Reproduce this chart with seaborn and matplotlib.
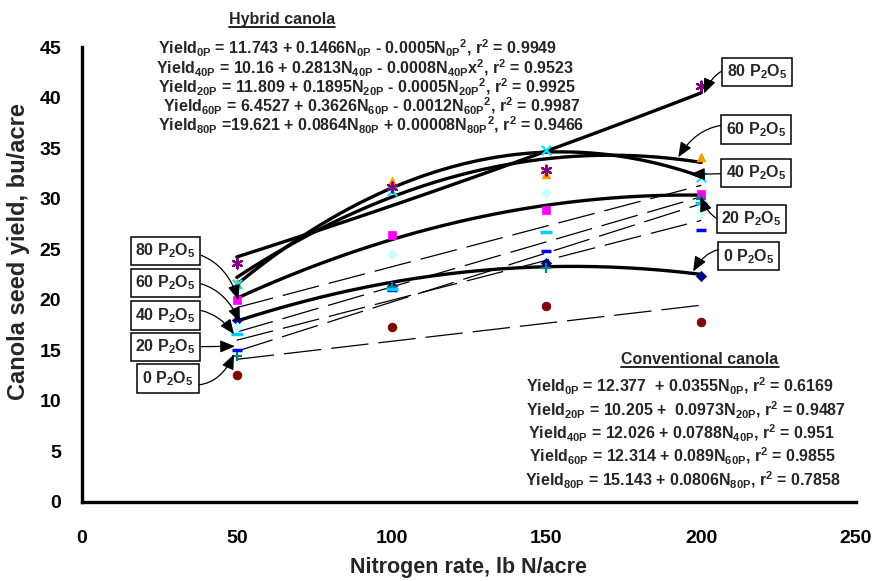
import numpy as np
import matplotlib
matplotlib.use("Agg")
import matplotlib.pyplot as plt
from matplotlib.lines import Line2D
import seaborn as sns

# Nitrogen rates (lb N/acre)
n_rate = [50, 100, 150, 200]

# Hybrid canola seed yield (bu/acre) by P2O5 rate
hybrid_0p = [18.0, 21.4, 23.6, 22.4]
hybrid_20p = [20.0, 26.4, 28.9, 30.5]
hybrid_40p = [21.7, 31.7, 32.4, 34.1]
hybrid_60p = [21.6, 30.8, 34.85, 32.1]
hybrid_80p = [23.6, 31.2, 32.8, 41.1]

# Conventional canola seed yield (bu/acre) by P2O5 rate
conv_0p = [12.6, 17.3, 19.4, 17.85]
conv_20p = [14.4, 21.3, 23.1, 30.0]
conv_40p = [15.0, 21.0, 24.8, 26.9]
conv_60p = [16.6, 21.1, 26.7, 29.6]
conv_80p = [17.3, 24.5, 30.6, 28.7]

hybrid_title = "Hybrid canola"
hybrid_eqs = [
    r"Yield$_{0P}$ = 11.743 + 0.1466N$_{0P}$ - 0.0005N$_{0P}$$^{2}$, r$^{2}$ = 0.9949",
    r"Yield$_{40P}$ = 10.16 + 0.2813N$_{40P}$ - 0.0008N$_{40P}$x$^{2}$, r$^{2}$ = 0.9523",
    r"Yield$_{20P}$ = 11.809 + 0.1895N$_{20P}$ - 0.0005N$_{20P}$$^{2}$, r$^{2}$ = 0.9925",
    r"Yield$_{60P}$ = 6.4527 + 0.3626N$_{60P}$ - 0.0012N$_{60P}$$^{2}$, r$^{2}$ = 0.9987",
    r"Yield$_{80P}$ =19.621 + 0.0864N$_{80P}$ + 0.00008N$_{80P}$$^{2}$, r$^{2}$ = 0.9466",
]
conv_title = "Conventional canola"
conv_eqs = [
    r"Yield$_{0P}$ = 12.377  + 0.0355N$_{0P}$, r$^{2}$ = 0.6169",
    r"Yield$_{20P}$ = 10.205 +  0.0973N$_{20P}$, r$^{2}$ = 0.9487",
    r"Yield$_{40P}$ = 12.026 + 0.0788N$_{40P}$, r$^{2}$ = 0.951",
    r"Yield$_{60P}$ = 12.314 + 0.089N$_{60P}$, r$^{2}$ = 0.9855",
    r"Yield$_{80P}$ = 15.143 + 0.0806N$_{80P}$, r$^{2}$ = 0.7858",
]
p_labels = ["0 P$_{2}$O$_{5}$", "20 P$_{2}$O$_{5}$", "40 P$_{2}$O$_{5}$",
            "60 P$_{2}$O$_{5}$", "80 P$_{2}$O$_{5}$"]

sns.set_theme(style="white")
plt.rcParams["font.family"] = ["Liberation Sans", "DejaVu Sans"]
plt.rcParams["font.weight"] = "bold"
plt.rcParams["axes.labelweight"] = "bold"
plt.rcParams["mathtext.fontset"] = "custom"
for key in ("rm", "it", "bf", "sf"):
    plt.rcParams[f"mathtext.{key}"] = "Liberation Sans:bold"

W, H = 876, 581
fig = plt.figure(figsize=(W / 100, H / 100), dpi=100)
ax = fig.add_axes([82 / W, 1 - 502 / H, (856 - 82) / W, (502 - 47) / H])


def fpx(px, py):
    """Pixel position (from top-left) to figure fraction."""
    return px / W, 1 - py / H


xs = np.linspace(50, 200, 200)

# Quadratic trend lines for hybrid canola
for ys in (hybrid_0p, hybrid_20p, hybrid_40p, hybrid_60p, hybrid_80p):
    coef = np.polyfit(n_rate, ys, 2)
    sns.lineplot(x=xs, y=np.polyval(coef, xs), color="black", lw=2.4,
                 ax=ax, zorder=3, legend=False)

# Linear trend lines for conventional canola
for ys in (conv_0p, conv_20p, conv_40p, conv_60p, conv_80p):
    coef = np.polyfit(n_rate, ys, 1)
    sns.lineplot(x=xs, y=np.polyval(coef, xs), color="black", lw=0.9,
                 linestyle=(0, (30, 8)), ax=ax, zorder=2, legend=False)

# Observed means
marker_specs = [
    (hybrid_0p, dict(marker="D", color="#000080", s=28)),
    (hybrid_20p, dict(marker="s", color="#FF00FF", s=40)),
    (hybrid_40p, dict(marker="^", color="#FF9900", s=40)),
    (hybrid_60p, dict(marker="x", color="#00E5FF", s=45, linewidth=1.6)),
    (hybrid_80p, dict(marker=(6, 2, 0), color="#800080", s=50, linewidth=1.6)),
    (conv_0p, dict(marker="o", color="#800000", s=40)),
    (conv_20p, dict(marker="+", color="#008080", s=55, linewidth=1.6)),
    (conv_40p, dict(marker="_", color="#0000FF", s=45, linewidth=2.5)),
    (conv_60p, dict(marker="_", color="#00CCFF", s=70, linewidth=2.5)),
    (conv_80p, dict(marker="D", color="#CCFFFF", s=28)),
]
for ys, kw in marker_specs:
    kw = dict(kw)
    if kw["marker"] in ("D", "s", "^", "o"):
        kw["edgecolor"] = kw["color"]
    sns.scatterplot(x=n_rate, y=ys, ax=ax, zorder=4, legend=False, **kw)

ax.set_xlim(0, 250)
ax.set_ylim(0, 45)
ax.set_xticks(range(0, 251, 50))
ax.set_yticks(range(0, 46, 5))
for side in ("top", "right"):
    ax.spines[side].set_visible(False)
for side in ("left", "bottom"):
    ax.spines[side].set_color("black")
    ax.spines[side].set_linewidth(2.4)
ax.tick_params(axis="x", direction="inout", length=12, width=2.2, pad=14,
               labelsize=14, colors="black")
ax.tick_params(axis="y", direction="out", length=8, width=2.2, pad=7,
               labelsize=14, colors="black")
for lab in ax.get_xticklabels() + ax.get_yticklabels():
    lab.set_fontweight("bold")

ax.set_xlabel("Nitrogen rate, lb N/acre", fontsize=15.5, fontweight="bold")
ax.set_ylabel("Canola seed yield, bu/acre", fontsize=17, fontweight="bold")
ax.xaxis.set_label_coords(0.5, (502 - 568) / 455)
ax.xaxis.label.set_verticalalignment("center")
ax.yaxis.set_label_coords((19 - 82) / 774, (502 - 252) / 455)
ax.yaxis.label.set_verticalalignment("center")

# Regression equations
eq_size = 11.5
t_h = fig.text(*fpx(282, 24), hybrid_title, fontsize=eq_size, ha="center",
               va="baseline", fontweight="bold")
for s, x0, yb in zip(hybrid_eqs, [158, 156, 158, 163, 158], [54, 74, 93, 112, 131]):
    fig.text(*fpx(x0, yb), s, fontsize=eq_size, ha="left", va="baseline",
             fontweight="bold")
t_c = fig.text(*fpx(700, 364), conv_title, fontsize=eq_size, ha="center",
               va="baseline", fontweight="bold")
for s, x0, yb in zip(conv_eqs, [526, 526, 528, 529, 525], [392, 416, 439, 462, 486]):
    fig.text(*fpx(x0, yb), s, fontsize=eq_size, ha="left", va="baseline",
             fontweight="bold")

# Callout boxes pointing at the trend lines
box = dict(boxstyle="square,pad=0.3", fc="white", ec="black", lw=1.1)


def callout(label, tip, center, rad):
    ax.annotate(label, xy=tip, xycoords="data", xytext=fpx(*center),
                textcoords="figure fraction", ha="center", va="center",
                fontsize=eq_size, fontweight="bold", bbox=box, zorder=6,
                arrowprops=dict(arrowstyle="-|>,head_length=0.6,head_width=0.25",
                                mutation_scale=15, color="black", lw=0.9,
                                shrinkA=0, shrinkB=0,
                                connectionstyle=f"arc3,rad={rad}"))


# left-hand callouts
callout(p_labels[4], (50.5, 20.0), (165.5, 251), -0.4)
callout(p_labels[3], (51.0, 17.8), (165.5, 283), -0.4)
callout(p_labels[2], (49.1, 16.6), (165.5, 315.5), -0.4)
callout(p_labels[1], (49.4, 15.4), (165.5, 347), 0.0)
callout(p_labels[0], (49.1, 14.6), (168, 378.5), 0.5)
# right-hand callouts
callout(p_labels[4], (200.9, 40.4), (757, 72), 0.5)
callout(p_labels[3], (192.6, 34.1), (756, 129.5), 0.4)
callout(p_labels[2], (196.4, 32.4), (756, 173), 0.0)
callout(p_labels[1], (199.8, 30.2), (751.5, 219), -0.5)
callout(p_labels[0], (197.4, 22.8), (748.7, 256.3), 0.5)

# Underline the two headings
fig.canvas.draw()
renderer = fig.canvas.get_renderer()
for t, yb in ((t_h, 24), (t_c, 364)):
    bb = t.get_window_extent(renderer)
    yl = 1 - (yb + 3) / H
    fig.add_artist(Line2D([bb.x0 / W, bb.x1 / W], [yl, yl], color="black",
                          lw=1.2, transform=fig.transFigure))

fig.savefig("out.png", dpi=100, facecolor="white")
